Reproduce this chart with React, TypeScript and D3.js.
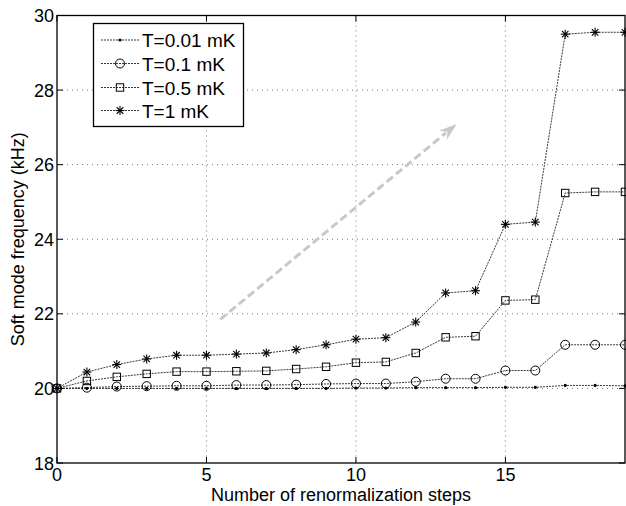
import React from "react";
import * as d3 from "d3";

const steps = [0,1,2,3,4,5,6,7,8,9,10,11,12,13,14,15,16,17,18,19];
const t001 = [20.0,20.0,20.0,20.0,20.0,20.0,20.0,20.0,20.0,20.0,20.01,20.01,20.02,20.02,20.02,20.03,20.03,20.08,20.08,20.07];
const t01 = [20.0,20.02,20.05,20.06,20.07,20.07,20.09,20.09,20.1,20.12,20.13,20.13,20.18,20.26,20.26,20.48,20.48,21.17,21.17,21.17];
const t05 = [20.0,20.2,20.31,20.39,20.45,20.45,20.46,20.47,20.52,20.58,20.69,20.71,20.95,21.37,21.4,22.36,22.38,25.24,25.27,25.27];
const t1 = [20.0,20.44,20.64,20.79,20.89,20.89,20.92,20.95,21.04,21.17,21.32,21.36,21.78,22.56,22.62,24.4,24.46,29.5,29.55,29.55];
const seriesNames = ["T=0.01 mK", "T=0.1 mK", "T=0.5 mK", "T=1 mK"];
const xTicks = [0, 5, 10, 15];
const yTicks = [18, 20, 22, 24, 26, 28, 30];
const arrowFrom = [5.46, 21.85];
const arrowTo = [13.37, 27.09];

const W = 626, H = 506;
const L = 57, R = 625, T = 15.5, B = 463;
const FONT = "'Liberation Sans', Arial, Helvetica, sans-serif";

function Marker({ kind, x, y }: { kind: number; x: number; y: number }) {
  if (kind === 0) return <circle cx={x} cy={y} r={1.6} fill="#000" />;
  if (kind === 1) return <circle cx={x} cy={y} r={4.5} fill="none" stroke="#000" strokeWidth={1} />;
  if (kind === 2) return <rect x={x - 3.7} y={y - 3.7} width={7.4} height={7.4} fill="none" stroke="#000" strokeWidth={1} />;
  const s = 4.5, d = s * 0.72;
  return (
    <g stroke="#000" strokeWidth={1.1}>
      <line x1={x - s} y1={y} x2={x + s} y2={y} />
      <line x1={x} y1={y - s} x2={x} y2={y + s} />
      <line x1={x - d} y1={y - d} x2={x + d} y2={y + d} />
      <line x1={x - d} y1={y + d} x2={x + d} y2={y - d} />
    </g>
  );
}

export default function App() {
  const x = d3.scaleLinear().domain([0, 19]).range([L, R]);
  const y = d3.scaleLinear().domain([18, 30]).range([B, T]);
  const all = [t001, t01, t05, t1];
  const line = d3.line<number>().x((_, i) => x(steps[i])).y((v) => y(v));

  const ax1 = x(arrowFrom[0]), ay1 = y(arrowFrom[1]);
  const ax2 = x(arrowTo[0]), ay2 = y(arrowTo[1]);
  const ang = Math.atan2(ay2 - ay1, ax2 - ax1);
  const hl = 18, hw = 6;
  const bx = ax2 - hl * Math.cos(ang), by = ay2 - hl * Math.sin(ang);
  const px = -Math.sin(ang), py = Math.cos(ang);
  const head = `${ax2},${ay2} ${bx + hw * px},${by + hw * py} ${ax2 - 12 * Math.cos(ang)},${ay2 - 12 * Math.sin(ang)} ${bx - hw * px},${by - hw * py}`;

  const legX = 93.5, legY = 23.5, legW = 150, legH = 103;
  const rowY = [40, 63.5, 87.5, 110.5];

  return (
    <svg width={W} height={H} style={{ position: "absolute", left: 0, top: 0, background: "#fff" }} fontFamily={FONT}>
      <rect x={0} y={0} width={W} height={H} fill="#fff" />
      {xTicks.filter((t) => t > 0).map((t) => (
        <line key={"gx" + t} x1={x(t)} x2={x(t)} y1={T} y2={B} stroke="#777" strokeWidth={1} strokeDasharray="1,4" />
      ))}
      {yTicks.filter((t) => t > 18 && t < 30).map((t) => (
        <line key={"gy" + t} x1={L} x2={R} y1={y(t)} y2={y(t)} stroke="#777" strokeWidth={1} strokeDasharray="1,4" />
      ))}
      <line x1={ax1} y1={ay1} x2={bx + 4 * Math.cos(ang)} y2={by + 4 * Math.sin(ang)} stroke="#c8c8c8" strokeWidth={3} strokeDasharray="8,4" />
      <polygon points={head} fill="#c8c8c8" />
      {all.map((s, k) => (
        <path key={"l" + k} d={line(s) || ""} fill="none" stroke="#222" strokeWidth={0.9} strokeDasharray="2,1" />
      ))}
      {all.map((s, k) => s.map((v, i) => <Marker key={"m" + k + "-" + i} kind={k} x={x(steps[i])} y={y(v)} />))}
      <rect x={L} y={T} width={R - L} height={B - T} fill="none" stroke="#000" strokeWidth={1.3} />
      {xTicks.map((t) => (
        <g key={"tx" + t}>
          <line x1={x(t)} x2={x(t)} y1={B} y2={B - 6} stroke="#000" />
          <line x1={x(t)} x2={x(t)} y1={T} y2={T + 6} stroke="#000" />
          <text x={x(t)} y={481} fontSize={18} textAnchor="middle">{t}</text>
        </g>
      ))}
      {yTicks.map((t) => (
        <g key={"ty" + t}>
          <line x1={L} x2={L + 6} y1={y(t)} y2={y(t)} stroke="#000" />
          <line x1={R} x2={R - 6} y1={y(t)} y2={y(t)} stroke="#000" />
          <text x={L - 3} y={y(t) + 6.5} fontSize={18} textAnchor="end">{t}</text>
        </g>
      ))}
      <text x={(L + R) / 2} y={501} fontSize={18} textAnchor="middle">Number of renormalization steps</text>
      <text transform={`translate(24,${(T + B) / 2}) rotate(-90)`} fontSize={18} textAnchor="middle">Soft mode frequency (kHz)</text>
      <rect x={legX} y={legY} width={legW} height={legH} fill="#fff" stroke="#000" strokeWidth={1.3} />
      {seriesNames.map((n, k) => (
        <g key={"lg" + k}>
          <line x1={101} x2={139} y1={rowY[k]} y2={rowY[k]} stroke="#222" strokeWidth={0.9} strokeDasharray="2,1" />
          <Marker kind={k} x={120} y={rowY[k]} />
          <text x={142} y={rowY[k] + 7} fontSize={19}>{n}</text>
        </g>
      ))}
    </svg>
  );
}
